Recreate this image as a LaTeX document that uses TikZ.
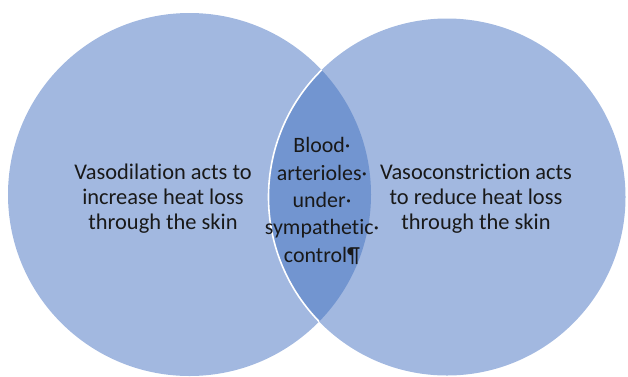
\documentclass[tikz,border=0pt]{standalone}
\usepackage{fontspec}
\setmainfont{Carlito}[RawFeature=-liga]
\definecolor{lightblue}{RGB}{162,184,224}
\definecolor{lensblue}{RGB}{114,149,208}
\definecolor{txt}{RGB}{25,25,25}
\begin{document}
\begin{tikzpicture}[x=1bp,y=-1bp,
  side/.style={align=center,anchor=base,text=txt,font=\fontsize{22.5}{25}\selectfont,inner sep=0pt},
  mid/.style={align=center,anchor=base,text=txt,font=\fontsize{22}{27.4}\selectfont,inner sep=0pt}]
\useasboundingbox (0,0) rectangle (628,376);
\begin{scope}
\clip (0,0) rectangle (628,376);
\fill[lightblue] (189.5,194.5) circle[radius=181.5];
\fill[lightblue] (447,197) circle[radius=178.5];
\begin{scope}
\clip (189.5,194.5) circle[radius=181.5];
\fill[lensblue] (447,197) circle[radius=178.5];
\draw[white,line width=1.6bp] (447,197) circle[radius=178.5];
\end{scope}
\end{scope}
\node[side] (left) at (163,229.5) {Vasodilation acts to\\increase heat loss\\through the skin};
\node[side] (right) at (476,229.5) {Vasoconstriction acts\\to reduce heat loss\\through the skin};
\node[mid] (mid) at (322,262) {Blood·\\arterioles·\\under·\\sympathetic·\\control¶};
\end{tikzpicture}
\end{document}
